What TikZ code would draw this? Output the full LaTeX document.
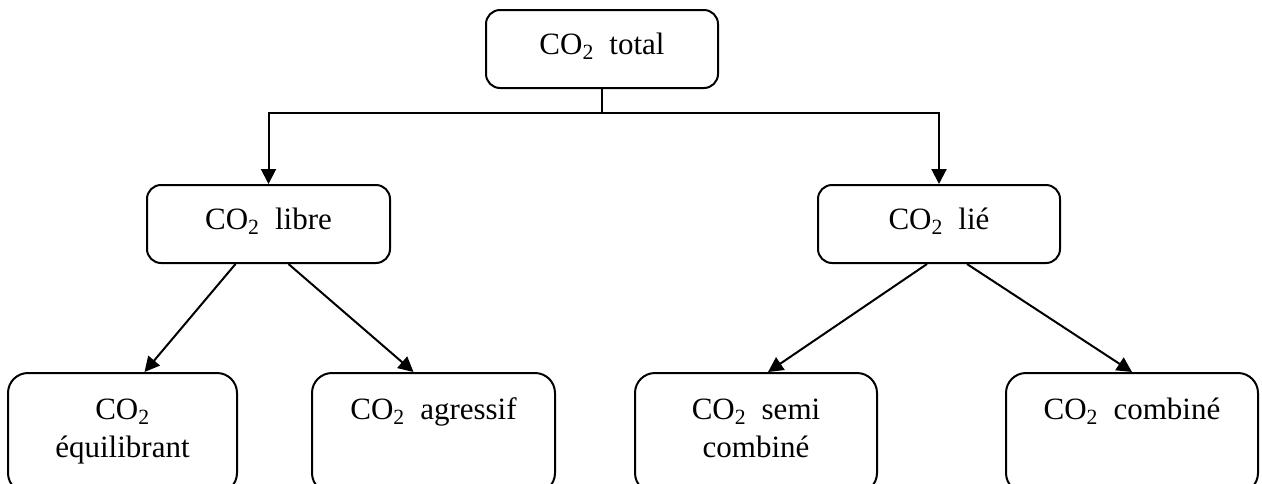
\documentclass[tikz,border=0pt]{standalone}
\usepackage{fontspec}
\setmainfont{Liberation Serif}
\usetikzlibrary{arrows.meta}
\newcommand{\cotwo}{CO\textsubscript{2}}

\begin{document}
\begin{tikzpicture}[x=1pt, y=-1pt,
	box/.style={draw, line width=2pt, rounded corners=14pt, align=center,
		inner xsep=0pt, inner ysep=0pt, anchor=north, font=\fontsize{31}{38}\selectfont},
	topbox/.style={box, text height=44pt, text depth=34pt},
	lowbox/.style={box, rounded corners=20pt, text height=46pt, text depth=74pt},
	twobox/.style={box, rounded corners=20pt, text height=84pt, text depth=36pt},
	arr/.style={line width=2pt, -{Triangle[length=15pt,width=15pt]}}]
			%%%%% START %%%%%
			
			\clip (0, 0) rectangle (1262, 483);
			
			\node[topbox, minimum width=232pt] (total) at (602, 9) {\cotwo\enskip total};
			
			\node[topbox, minimum width=243pt] (libre) at (268.5, 184) {\cotwo\enskip libre};
			\node[topbox, minimum width=242pt] (lie) at (939, 184) {\cotwo\enskip lié};
			
			\node[twobox, minimum width=229pt] (equi) at (122.5, 372) {\cotwo\\équilibrant};
			\node[lowbox, minimum width=243pt] (aggr) at (433.5, 372) {\cotwo\enskip agressif};
			\node[twobox, minimum width=242pt] (semi) at (756, 372) {\cotwo\enskip semi\\combiné};
			\node[lowbox, minimum width=252pt] (comb) at (1132, 372) {\cotwo\enskip combiné};
			
			\coordinate (split) at (602, 113);
			\draw[line width=2pt] (total) -- (split);
			\draw[arr] (split) -| (libre.north);
			\draw[arr] (split) -| (lie.north);
			
			\draw[arr] ([xshift=-33pt]libre.south) -- ([xshift=22pt]equi.north);
			\draw[arr] ([xshift=20pt]libre.south) -- ([xshift=-20pt]aggr.north);
			
			\draw[arr] ([xshift=-12pt]lie.south) -- ([xshift=12pt]semi.north);
			\draw[arr] ([xshift=28pt]lie.south) -- (comb.north);
			
			%%%%% END %%%%%
		\end{tikzpicture}
\end{document}
